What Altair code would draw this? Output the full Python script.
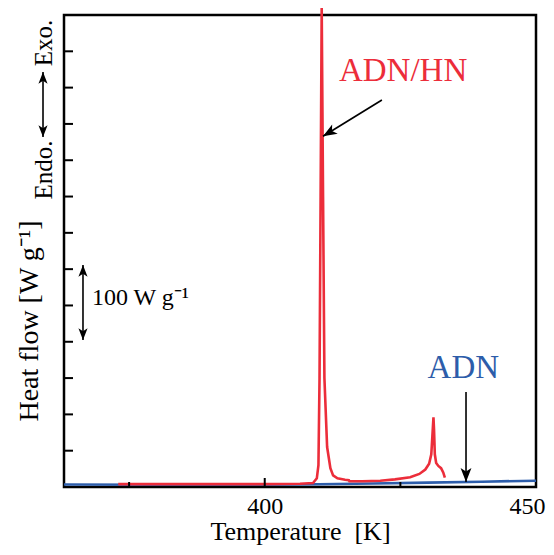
import altair as alt
import pandas as pd

FONT = "Liberation Serif"
RED = "#EC2D3A"
BLUE = "#2D5DAA"

# ---- data ----
adnhn_T = [373.0, 385.0, 400.0, 406.5, 408.9, 409.6, 409.9, 410.1, 410.3, 410.5, 410.75,
           411.0, 411.5, 412.1, 412.6, 413.4, 414.8, 415.5, 415.6, 418.0, 421.3, 424.0,
           426.8, 428.5, 429.6, 430.3, 430.7, 430.9, 431.1, 431.2, 431.35, 431.6, 432.0,
           432.5, 432.9, 433.2]
adnhn_H = [4.0, 4.0, 4.0, 4.5, 5.5, 12, 30, 150, 400, 660, 400,
           150, 55, 26, 16, 12, 10, 9.5, 8, 8, 8.7, 10.5,
           13.5, 18, 24, 32, 45, 70, 96, 80, 45, 33, 29,
           26, 20, 13]

adn_T = [363, 380, 400, 410, 420, 430, 440, 450]
adn_H = [3.5, 3.2, 3.0, 3.8, 4.8, 6.0, 7.3, 8.7]

x_labels = [400, 450]
x_major_ticks = [400]
x_minor_ticks = [375, 425]
y_ticks = [50, 100, 150, 200, 250, 300, 350, 400, 450, 500, 550, 600]

# annotations (data coordinates)
arrow_x = [421.6, 437.1, 359.13, 366.5]
arrow_y = [533.0, 130.8, 571.5, 305.7]
arrow_x2 = [410.74, 437.1, 359.13, 366.5]
arrow_y2 = [483.0, 6.9, 482.0, 202.4]

head_x = [410.74, 437.1, 359.13, 359.13, 366.5, 366.5]
head_y = [483.0, 6.9, 571.5, 482.0, 305.7, 202.4]
head_angle = [239, 180, 0, 180, 0, 180]
head_size = [240, 240, 170, 170, 170, 170]

label_text = ["ADN/HN", "ADN"]
label_x = [425.5, 436.6]
label_y = [559.0, 150.0]
label_color = [RED, BLUE]

side_text = ["Exo.", "Endo."]
side_x = [360.8, 360.8]
side_y = [611.4, 436.5]

# ---- build ----
xs = alt.Scale(domain=[363, 450], nice=False, zero=False)
ys = alt.Scale(domain=[0, 650], nice=False, zero=False)
xaxis = alt.Axis(values=x_labels, ticks=False, tickSize=0, domain=False, grid=False,
                 labelFont=FONT, labelFontSize=24, labelColor="black",
                 labelBaseline="alphabetic", labelPadding=26,
                 labelFlush=True, labelFlushOffset=9,
                 title="Temperature\u00a0\u00a0[K]", titleFont=FONT, titleFontSize=26,
                 titleFontWeight="normal", titleColor="black",
                 titleBaseline="alphabetic", titleY=52)


def X(f):
    return alt.X(f, type="quantitative", scale=xs, axis=xaxis)


def Y(f):
    return alt.Y(f, type="quantitative", scale=ys, axis=None)


curves = pd.DataFrame({
    "T": adn_T + adnhn_T,
    "H": adn_H + adnhn_H,
    "s": ["ADN"] * len(adn_T) + ["ADN/HN"] * len(adnhn_T),
    "o": list(range(len(adn_T))) + list(range(len(adnhn_T))),
})

lines = alt.Chart(curves).mark_line(strokeWidth=2.6, clip=False).encode(
    x=X("T"), y=Y("H"),
    color=alt.Color("s:N", scale=alt.Scale(domain=["ADN", "ADN/HN"], range=[BLUE, RED]), legend=None),
    order="o:Q",
)

lt = alt.Chart(pd.DataFrame({"H": y_ticks})).mark_rule(color="black", strokeWidth=2).encode(
    y=Y("H"), x=alt.value(0), x2=alt.value(9))
bmaj = alt.Chart(pd.DataFrame({"T": x_major_ticks})).mark_rule(color="black", strokeWidth=2).encode(
    x=X("T"), y=alt.value(472), y2=alt.value(463))
bmin = alt.Chart(pd.DataFrame({"T": x_minor_ticks})).mark_rule(color="black", strokeWidth=2).encode(
    x=X("T"), y=alt.value(472), y2=alt.value(467))

arrows = alt.Chart(pd.DataFrame({"x": arrow_x, "y": arrow_y, "x2": arrow_x2, "y2": arrow_y2})).mark_rule(
    color="black", strokeWidth=1.6, clip=False).encode(
    x=X("x"), y=Y("y"), x2="x2:Q", y2="y2:Q")

HEAD = "M0,0L0.7,1.8L0,1.35L-0.7,1.8Z"
heads = alt.Chart(pd.DataFrame({"x": head_x, "y": head_y, "a": head_angle, "sz": head_size})).mark_point(
    shape=HEAD, filled=True, color="black", opacity=1, strokeWidth=0, clip=False).encode(
    x=X("x"), y=Y("y"), angle=alt.Angle("a:Q", scale=None), size=alt.Size("sz:Q", scale=None))

labels = alt.Chart(pd.DataFrame({"x": label_x, "y": label_y, "t": label_text, "c": label_color})).mark_text(
    font=FONT, fontSize=33, align="center", baseline="alphabetic").encode(
    x=X("x"), y=Y("y"), text="t:N", color=alt.Color("c:N", scale=None))

side = alt.Chart(pd.DataFrame({"x": side_x, "y": side_y, "t": side_text})).mark_text(
    font=FONT, fontSize=25, align="center", baseline="alphabetic", angle=270, color="black").encode(
    x=X("x"), y=Y("y"), text="t:N")

ytitle = alt.Chart(pd.DataFrame({"x": [358.2], "y": [228.6], "t": ["Heat flow [W g\u207b\u00b9]"]})).mark_text(
    font=FONT, fontSize=28, align="center", baseline="alphabetic", angle=270, color="black").encode(
    x=X("x"), y=Y("y"), text="t:N")

scale_lbl = alt.Chart(pd.DataFrame({"x": [368.16], "y": [250.6], "t": ["100 W g\u207b\u00b9"]})).mark_text(
    font=FONT, fontSize=24, align="left", baseline="alphabetic", color="black").encode(
    x=X("x"), y=Y("y"), text="t:N")

chart = alt.layer(lines, lt, bmaj, bmin, arrows, heads, labels, side, ytitle, scale_lbl).properties(
    width=472, height=472,
    padding={"left": 56, "top": 7, "right": 10, "bottom": 60},
    autosize="none",
).configure(background="white").configure_view(stroke="black", strokeWidth=2.5)

chart.save("out.html", embed_options={"renderer": "svg", "actions": False})
